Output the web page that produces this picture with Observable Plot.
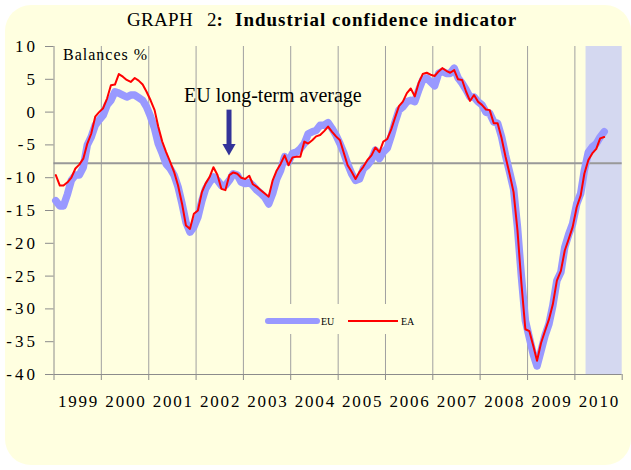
<!DOCTYPE html>
<html><head><meta charset="utf-8">
<script src="https://cdn.jsdelivr.net/npm/d3@7"></script>
<script src="https://cdn.jsdelivr.net/npm/@observablehq/plot@0.6"></script>
<style>
body{margin:0;background:#fff;}
#wrap{position:relative;width:631px;height:470px;overflow:hidden;font-family:"Liberation Serif","Times New Roman",serif;color:#000;}
#bg{position:absolute;left:5px;top:5px;width:626px;height:460px;background:#FFFFE0;border-radius:26px;}
#chart{position:absolute;left:0;top:0;}
#chart svg text{font-family:"Liberation Serif","Times New Roman",serif;}
#chart g[aria-label="y-axis tick label"] text{letter-spacing:3px;}
.t{position:absolute;white-space:pre;line-height:19px;font-size:19px;top:10px;}
#bal{position:absolute;left:63px;top:47px;font-size:16px;line-height:16px;letter-spacing:1px;white-space:pre;}
#legend{position:absolute;left:250px;top:304px;width:175px;height:30px;background:#FFFFE0;}
.lt{position:absolute;font-size:10px;line-height:10px;top:12.6px;}
</style></head>
<body>
<div id="wrap">
  <div id="bg"></div>
  <div id="chart"></div>
  <span class="t" style="left:127px;letter-spacing:0.3px">GRAPH</span>
  <span class="t" style="left:207px">2<b>:</b></span>
  <span class="t" style="left:235px;font-weight:bold;letter-spacing:1px">Industrial confidence indicator</span>
  <div id="bal">Balances %</div>
  <div id="legend">
    <div style="position:absolute;left:15px;top:13.5px;width:55px;height:6px;border-radius:3px;background:#9999FF"></div>
    <div class="lt" style="left:71px">EU</div>
    <div style="position:absolute;left:98px;top:16px;width:50px;height:2px;background:#FF0000"></div>
    <div class="lt" style="left:151px">EA</div>
  </div>
</div>
<script>
// ---- data ----
const startYear = 1999;
const years = [1999, 2000, 2001, 2002, 2003, 2004, 2005, 2006, 2007, 2008, 2009, 2010];
const yTicks = [10, 5, 0, -5, -10, -15, -20, -25, -30, -35, -40];
const euValues = [
  -13.5, -14.3, -14.3, -12.5, -10.4, -9.6, -9.6, -8.4, -5.0, -3.8, -2.0, -1.2,
  -0.5, 1.1, 1.8, 3.1, 2.9, 2.6, 2.3, 2.6, 2.6, 2.2, 1.8, 0.8,
  -0.7, -2.5, -4.8, -6.3, -7.9, -8.6, -9.6, -11.4, -14.0, -16.8, -18.3, -17.5,
  -16.0, -13.5, -11.7, -10.7, -9.9, -10.4, -11.2, -11.2, -10.4, -9.4, -9.6, -10.7,
  -10.9, -10.7, -11.2, -11.9, -12.4, -13.0, -14.0, -12.4, -10.2, -8.9, -6.8, -7.6,
  -6.3, -6.1, -5.6, -4.8, -3.3, -3.0, -2.8, -2.0, -2.0, -1.6, -2.5, -3.5,
  -4.8, -6.3, -7.9, -9.4, -10.4, -10.2, -8.6, -8.1, -7.3, -5.8, -7.1, -6.1,
  -5.5, -3.6, -1.6, 0.3, 0.8, 1.6, 1.8, 1.6, 3.4, 4.9, 5.2, 4.6,
  4.0, 5.9, 6.2, 5.9, 5.9, 6.7, 5.2, 4.4, 3.4, 2.3, 2.3, 1.6,
  1.1, 0.0, -0.2, -1.5, -1.7, -3.8, -6.6, -9.1, -11.7, -17.5, -25.2, -31.8,
  -34.4, -37.0, -38.7, -36.4, -34.1, -32.3, -29.5, -25.7, -24.4, -20.6, -18.6, -17.0,
  -14.0, -12.4, -8.9, -6.1, -5.3, -4.8, -3.8, -3.0
];
const eaValues = [
  -9.6, -11.2, -11.2, -10.7, -10.0, -8.6, -8.0, -7.1, -4.8, -3.3, -0.7, 0.0,
  0.6, 2.1, 4.1, 4.2, 5.8, 5.4, 4.9, 4.6, 5.2, 4.8, 4.2, 3.1,
  1.8, 0.3, -2.2, -4.5, -6.1, -7.6, -9.1, -11.2, -14.0, -17.3, -17.8, -15.5,
  -15.0, -12.2, -10.9, -9.9, -8.4, -9.6, -11.7, -11.9, -9.6, -9.2, -9.4, -10.0,
  -10.2, -9.7, -11.0, -11.4, -11.9, -12.4, -12.9, -10.4, -8.9, -7.9, -6.6, -8.1,
  -6.9, -6.8, -6.8, -4.5, -4.8, -4.3, -3.7, -3.5, -2.9, -2.2, -3.0, -3.7,
  -4.3, -6.3, -8.1, -9.1, -10.2, -9.1, -8.3, -7.3, -6.6, -5.4, -6.1, -4.5,
  -4.1, -2.6, -0.9, 0.9, 1.6, 2.9, 3.6, 2.4, 4.5, 5.8, 6.0, 5.7,
  5.5, 6.2, 6.7, 6.3, 6.0, 6.4, 5.0, 4.9, 3.1, 1.7, 2.6, 1.6,
  1.1, 0.4, 0.3, -1.7, -1.7, -4.0, -6.8, -9.4, -12.2, -18.0, -26.2, -33.1,
  -33.4, -35.7, -37.9, -35.2, -33.4, -31.6, -29.3, -25.7, -24.2, -21.1, -19.3, -17.5,
  -14.5, -12.7, -9.4, -7.3, -6.3, -5.6, -4.0, -3.8
];
const longTermAverage = -7.8;
const forecastPeriod = [{start: "2010-03-28", end: "2011-01-01"}];
const annotation = [{date: "2003-08-16", value: 1.6, label: "EU long-term average"}];
const arrowInfo = [{date: "2002-09-12", top: 0.3, shaftEnd: -5.0, head: -5.44}];

// ---- build table ----
const rows = euValues.map((eu, i) => ({
  date: new Date(Date.UTC(startYear + Math.floor(i / 12), i % 12, 15)),
  eu, ea: eaValues[i]
}));
const boundaries = years.map(y => new Date(Date.UTC(y, 0, 1))).concat([new Date(Date.UTC(2011, 0, 1))]);
const innerGrid = boundaries.slice(1, -1);
const d = s => new Date(s + "T00:00:00Z");

const chart = Plot.plot({
  width: 631, height: 470,
  marginLeft: 53.5, marginRight: 9.3, marginTop: 46, marginBottom: 96,
  style: "background:transparent;font-family:'Liberation Serif','Times New Roman',serif;color:#000;overflow:visible;",
  x: {type: "utc", domain: [boundaries[0], boundaries[boundaries.length - 1]]},
  y: {domain: [-40, 10]},
  marks: [
    Plot.rect(forecastPeriod, {x1: r => d(r.start), x2: r => d(r.end), fill: "#D4D8F0"}),
    Plot.ruleX(innerGrid, {stroke: "#a0a0a0", strokeWidth: 1}),
    Plot.ruleY([longTermAverage], {stroke: "#999999", strokeWidth: 2}),
    Plot.ruleX([boundaries[0]], {stroke: "#8c8c8c", strokeWidth: 1}),
    Plot.ruleY([-40], {stroke: "#8c8c8c", strokeWidth: 1}),
    Plot.lineY(rows, {x: "date", y: "eu", stroke: "#9999FF", strokeWidth: 7.5, strokeLinejoin: "round", strokeLinecap: "round"}),
    Plot.lineY(rows, {x: "date", y: "ea", stroke: "#FF0000", strokeWidth: 2, strokeLinejoin: "round"}),
    Plot.axisY({ticks: yTicks, tickSize: 8.5, tickPadding: 7.5, stroke: "#8c8c8c", fill: "#000", fontSize: 17, tickFormat: v => String(v)}),
    Plot.axisX({ticks: boundaries, tickSize: 6, stroke: "#8c8c8c", tickFormat: () => ""}),
    Plot.text(years, {x: y => new Date(Date.UTC(y, 6, 2)), frameAnchor: "bottom", lineAnchor: "bottom", dy: 32.7, dx: 0.9, text: y => String(y), fontSize: 17, fill: "#000"}),
    Plot.text(annotation, {x: r => d(r.date), y: "value", text: "label", lineAnchor: "bottom", fontSize: 20, fill: "#000"}),
    Plot.ruleX(arrowInfo, {x: r => d(r.date), y1: "top", y2: "shaftEnd", stroke: "#333399", strokeWidth: 5}),
    Plot.dot(arrowInfo, {x: r => d(r.date), y: "head", symbol: "triangle", rotate: 180, r: 4.9, fill: "#333399", stroke: "none"})
  ]
});
// letter-spacing of the year labels (first text mark)
const textGroups = chart.querySelectorAll('g[aria-label="text"]');
if (textGroups.length) textGroups[0].setAttribute("letter-spacing", "1.8");
document.getElementById("chart").appendChild(chart);
</script>
</body></html>
